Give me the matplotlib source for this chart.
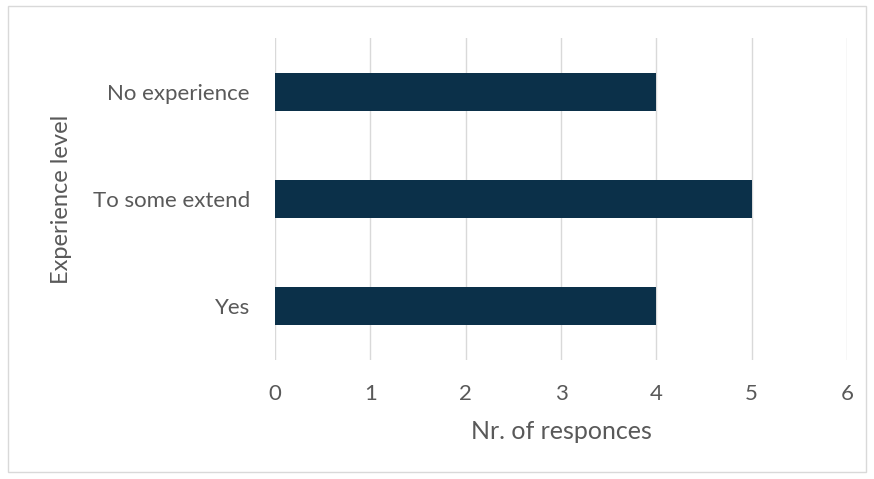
import matplotlib.pyplot as plt
from matplotlib.patches import Rectangle

# data
categories = ["Yes", "To some extend", "No experience"]
responses = [4, 5, 4]
x_ticks = [0, 1, 2, 3, 4, 5, 6]

plt.rcParams['font.family'] = ['Lato', 'DejaVu Sans']
text_col = '#595959'
grid_col = '#D9D9D9'

fig = plt.figure(figsize=(8.74, 4.79), dpi=100)
ax = fig.add_axes([0.3146, 0.2484, 0.6545, 0.6723])

ax.barh(categories, responses, height=0.355, color='#0B3049', zorder=3)
ax.set_xlim(0, 6)
ax.set_ylim(-0.5, 2.5)
ax.set_xticks(x_ticks)
ax.grid(axis='x', color=grid_col, linewidth=1, zorder=0)
for s in ax.spines.values():
    s.set_visible(False)
ax.tick_params(length=0, labelsize=16, colors=text_col)
ax.tick_params(axis='x', pad=17)
ax.tick_params(axis='y', pad=18)

ax.set_xlabel("Nr. of responces", fontsize=18, color=text_col, labelpad=12)
ax.set_ylabel("Experience level", fontsize=17, color=text_col, labelpad=15)

# outer border
fig.patches.append(Rectangle((8/874, 7/479), 858/874, 466/479, transform=fig.transFigure,
                             fill=False, edgecolor=grid_col, linewidth=1))

fig.savefig("out.png", dpi=100)
